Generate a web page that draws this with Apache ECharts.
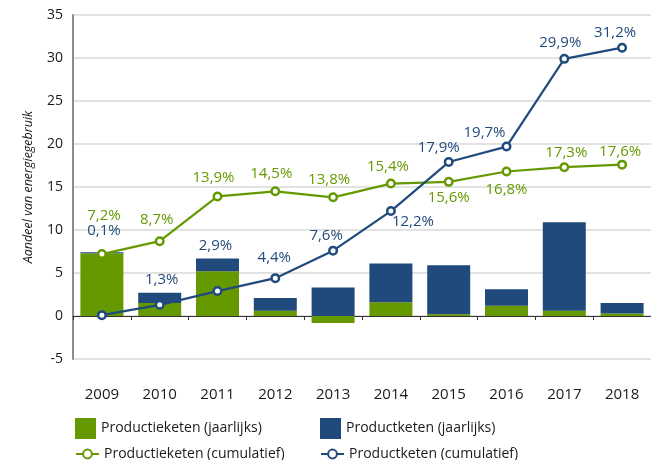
<!DOCTYPE html>
<html>
<head>
<meta charset="utf-8">
<script src="https://cdn.jsdelivr.net/npm/echarts@6/dist/echarts.min.js"></script>
<style>html,body{margin:0;padding:0;background:#fff;}#c{width:651px;height:460px;}</style>
</head>
<body>
<div id="c"></div>
<script>
// ---- data ----
const years = ['2009','2010','2011','2012','2013','2014','2015','2016','2017','2018'];
const productieketenJaarlijks = [7.3, 1.5, 5.2, 0.6, -0.8, 1.6, 0.2, 1.2, 0.6, 0.3];
const productketenJaarlijks = [0.1, 1.2, 1.5, 1.5, 3.3, 4.5, 5.7, 1.9, 10.3, 1.2];
const productieketenCumulatief = [7.2, 8.7, 13.9, 14.5, 13.8, 15.4, 15.6, 16.8, 17.3, 17.6];
const productketenCumulatief = [0.1, 1.3, 2.9, 4.4, 7.6, 12.2, 17.9, 19.7, 29.9, 31.2];
const yTicks = [-5, 0, 5, 10, 15, 20, 25, 30, 35];

// ---- styling (label offsets per point) ----
const GREEN = '#669900';
const BLUE = '#214a7c';
const greenOffsets = [[2,-38],[-3,-21],[-4,-19],[-4,-18],[-4,-18],[-3,-17],[0,16],[0,18],[2,-14],[-2,-13]];
const blueOffsets = [[2,-84],[2,-25],[-2,-45],[-1,-20],[-7,-15],[22,11],[-10,-14],[-22,-14],[-4,-16],[-7,-15]];
const FONT = 'Open Sans';

function fmt(v){ return v.toFixed(1).replace('.', ',') + '%'; }
function lineData(vals, offs, color){
  return vals.map((v,i)=>({
    value: v,
    label: {show:true, position:'inside', offset: offs[i], formatter: fmt(v), color: color, fontSize: 15, fontFamily: FONT}
  }));
}

const chart = echarts.init(document.getElementById('c'), null, {renderer:'canvas'});
const legendBase = {orient:'horizontal', itemGap: 0, selectedMode:false,
  textStyle:{fontSize:14, fontFamily:FONT, color:'#1a1a1a'}};
chart.setOption({
  animation:false,
  textStyle:{fontFamily:FONT},
  grid:{left:73, right:-9, top:15, bottom:101, containLabel:false},
  xAxis:{
    type:'category', data: years,
    axisLine:{show:true, onZero:true, lineStyle:{color:'#333', width:1}},
    axisTick:{show:true, length:4, lineStyle:{color:'#333', width:1}},
    axisLabel:{margin:28, fontSize:15, color:'#1a1a1a', fontFamily:FONT},
    splitLine:{show:false}
  },
  yAxis:{
    type:'value', min: yTicks[0], max: yTicks[yTicks.length-1], interval: 5,
    name:'Aandeel van energiegebruik', nameLocation:'middle', nameGap:38,
    nameTextStyle:{fontStyle:'italic', fontSize:12.5, color:'#1a1a1a', fontFamily:FONT},
    axisLine:{show:true, lineStyle:{color:'#8c8c8c', width:2}},
    axisTick:{show:false},
    axisLabel:{fontSize:14, color:'#1a1a1a', margin:10, fontFamily:FONT},
    splitLine:{show:true, lineStyle:{color:'#d9d9d9', width:1.5}}
  },
  legend:[
    Object.assign({}, legendBase, {left:70, top:413, itemWidth:21, itemHeight:21, data:[{name:'Productieketen (jaarlijks)', icon:'rect'}]}),
    Object.assign({}, legendBase, {left:315, top:413, itemWidth:21, itemHeight:21, data:[{name:'Productketen (jaarlijks)', icon:'rect'}]}),
    Object.assign({}, legendBase, {left:70, top:442, itemWidth:23, itemHeight:11, data:['Productieketen (cumulatief)']}),
    Object.assign({}, legendBase, {left:315, top:442, itemWidth:23, itemHeight:11, data:['Productketen (cumulatief)']})
  ],
  series:[
    {name:'Productieketen (jaarlijks)', type:'bar', stack:'j', data: productieketenJaarlijks, barWidth:43,
      itemStyle:{color:GREEN}},
    {name:'Productketen (jaarlijks)', type:'bar', stack:'j', data: productketenJaarlijks, barWidth:43,
      itemStyle:{color:BLUE}},
    {name:'Productieketen (cumulatief)', type:'line', data: lineData(productieketenCumulatief, greenOffsets, GREEN),
      symbol:'circle', symbolSize:7.5, showAllSymbol:true,
      lineStyle:{color:GREEN, width:2.2}, itemStyle:{color:'#fff', borderColor:GREEN, borderWidth:2.5}, z:3},
    {name:'Productketen (cumulatief)', type:'line', data: lineData(productketenCumulatief, blueOffsets, BLUE),
      symbol:'circle', symbolSize:7.5, showAllSymbol:true,
      lineStyle:{color:BLUE, width:2.2}, itemStyle:{color:'#fff', borderColor:BLUE, borderWidth:2.5}, z:4}
  ]
});
</script>
</body>
</html>
